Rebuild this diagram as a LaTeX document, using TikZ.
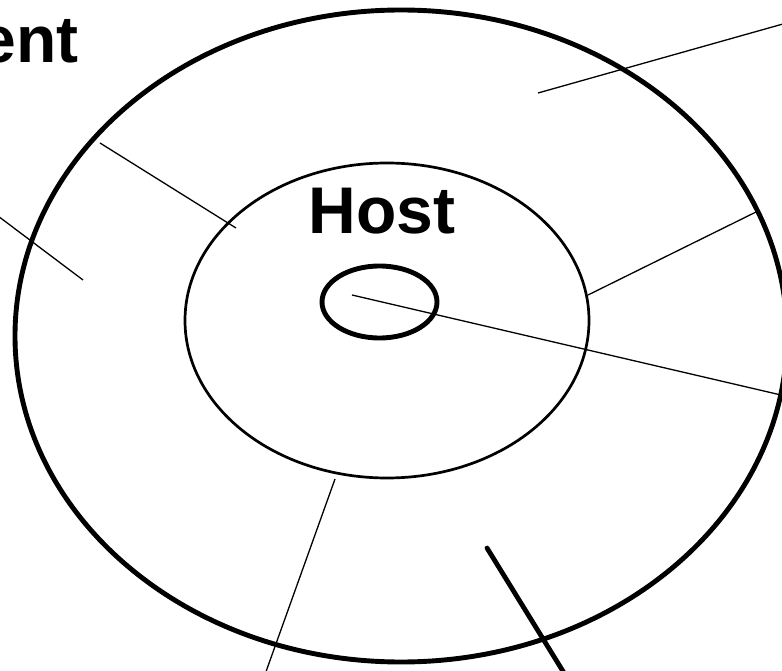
\documentclass[tikz,border=0pt]{standalone}
\usepackage{fontspec}
\setmainfont{Liberation Sans}
\usetikzlibrary{shapes.geometric}
\begin{document}
\begin{tikzpicture}[x=1pt,y=-1pt,
  ring/.style={draw=black,ellipse,inner sep=0pt},
  thinline/.style={draw=black,line width=1.3pt},
  thickline/.style={draw=black,line width=4.8pt},
  label/.style={inner sep=0pt,font=\fontsize{66}{66}\selectfont\bfseries}]
\useasboundingbox (0,0) rectangle (782,671);
\begin{scope}
\clip (0,0) rectangle (782,671);
\node[ring,line width=4.9pt,minimum width=772pt,minimum height=652pt] (outer) at (401,336) {};
\node[ring,line width=2.7pt,minimum width=404pt,minimum height=315pt] (inner) at (387,320.5) {};
\node[ring,line width=4.9pt,minimum width=115pt,minimum height=72pt] (core) at (379.5,302) {};
\node[label,anchor=base] (host) at (382,234) {Host};
\node[label,anchor=base east] (ent) at (79,63) {ent};
\coordinate (a1) at (538,93);  \coordinate (b1) at (790,22);
\coordinate (a2) at (100,143); \coordinate (b2) at (236,228);
\coordinate (a3) at (-10,210); \coordinate (b3) at (83,280);
\coordinate (a4) at (588,295); \coordinate (b4) at (756,212);
\coordinate (a5) at (352,295); \coordinate (b5) at (781,395);
\coordinate (a6) at (335,479); \coordinate (b6) at (263,680);
\coordinate (a7) at (487,548); \coordinate (b7) at (569,681);
\draw[thinline] (a1) -- (b1);
\draw[thinline] (a2) -- (b2);
\draw[thinline] (a3) -- (b3);
\draw[thinline] (a4) -- (b4);
\draw[thinline] (a5) -- (b5);
\draw[thinline] (a6) -- (b6);
\draw[thickline,line cap=round] (a7) -- (b7);
\end{scope}
\end{tikzpicture}
\end{document}
